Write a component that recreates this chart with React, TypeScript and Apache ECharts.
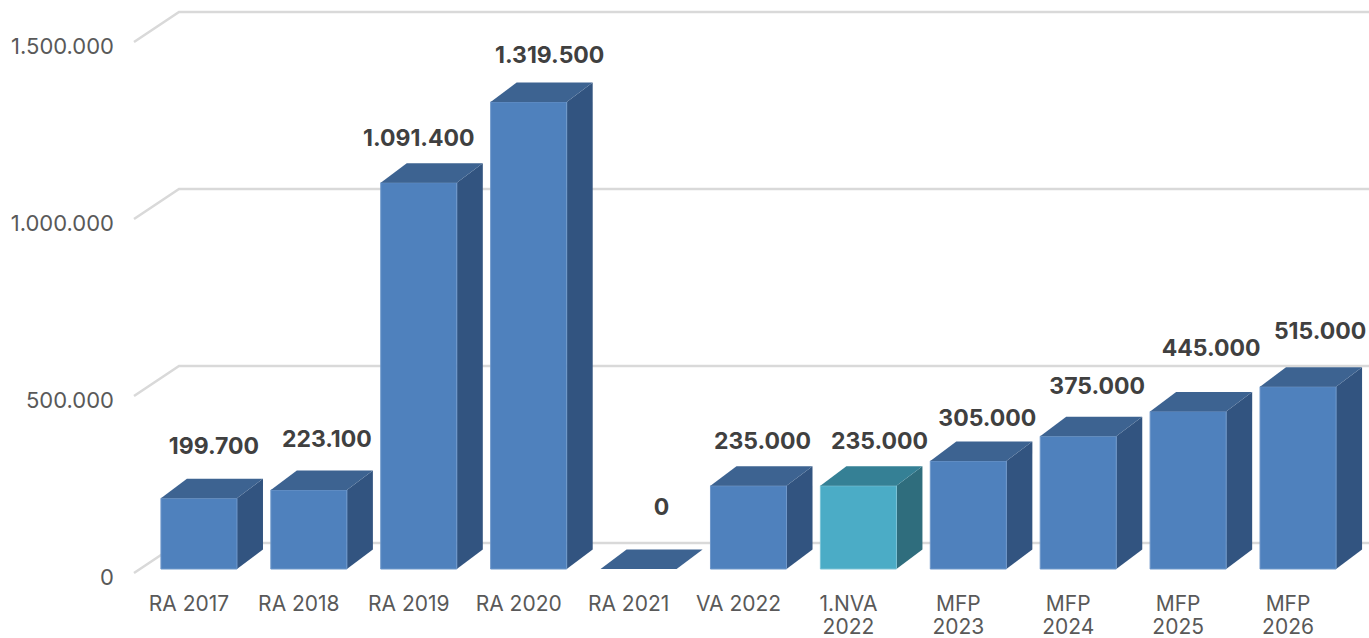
import React, { useEffect, useRef } from "react";
import * as echarts from "echarts";

const categories = ["RA 2017", "RA 2018", "RA 2019", "RA 2020", "RA 2021", "VA 2022", "1.NVA\n2022", "MFP\n2023", "MFP\n2024", "MFP\n2025", "MFP\n2026"];
const values = [199700, 223100, 1091400, 1319500, 0, 235000, 235000, 305000, 375000, 445000, 515000];
const valueTicks = [0, 500000, 1000000, 1500000];
const highlighted = "1.NVA\n2022";

const labelShiftX = [15, 18, 0, 21, 23, 14, 21, 19, 19, 23, 22];
const labelShiftY = [-52, -51, -45, -47, -62, -45, -45, -43, -50, -63, -56];

const FONT = "Inter";
const DEPTH_X = 26;
const DEPTH_Y = -19.5;
const BLUE = { front: "#4f81bd", top: "#3d6391", side: "#325480", edge: "#6f98ca" };
const TEAL = { front: "#4bacc6", top: "#358095", side: "#2f6d7d", edge: "#7cc3d6" };

const fmt = (v: number) => String(v).replace(/\B(?=(\d{3})+$)/g, ".");

function renderBar(params: any, api: any) {
  const i = api.value(0);
  const v = api.value(1);
  const [cx, yTop] = api.coord([i, v]);
  const [, yBase] = api.coord([i, 0]);
  const half = (api.size([1, 0])[0] * 0.692) / 2;
  const l = cx - half;
  const r = cx + half;
  const c = categories[i] === highlighted ? TEAL : BLUE;
  const children: any[] = [];
  if (v > 0) {
    children.push({
      type: "polygon",
      shape: { points: [[r, yTop], [r + DEPTH_X, yTop + DEPTH_Y], [r + DEPTH_X, yBase + DEPTH_Y], [r, yBase]] },
      style: { fill: c.side },
    });
    children.push({
      type: "rect",
      shape: { x: l, y: yTop, width: r - l, height: yBase - yTop },
      style: { fill: c.front, stroke: c.edge, lineWidth: 1 },
    });
  }
  children.push({
    type: "polygon",
    shape: { points: [[l, yTop], [r, yTop], [r + DEPTH_X, yTop + DEPTH_Y], [l + DEPTH_X, yTop + DEPTH_Y]] },
    style: { fill: c.top },
  });
  children.push({
    type: "text",
    x: cx + labelShiftX[i],
    y: yTop + labelShiftY[i],
    style: {
      text: fmt(v),
      fill: "#404040",
      font: `700 23px ${FONT}`,
      align: "center",
      verticalAlign: "middle",
    },
  });
  return { type: "group", children };
}

function renderGrid(params: any, api: any) {
  const v = api.value(0);
  const y = api.coord([0, v])[1];
  const x0 = params.coordSys.x;
  return {
    type: "polyline",
    shape: { points: [[x0 - 10, y + 4], [x0 + 35, y - 26], [1369, y - 26]] },
    style: { fill: "none", stroke: "#d9d9d9", lineWidth: 2.5 },
  };
}

export default function App() {
  const ref = useRef<HTMLDivElement>(null);
  useEffect(() => {
    const chart = echarts.init(ref.current!, undefined, { renderer: "svg" });
    chart.setOption({
      animation: false,
      backgroundColor: "#ffffff",
      grid: { left: 144, right: 16, top: 38, bottom: 69, containLabel: false, outerBoundsMode: "none" },
      xAxis: {
        type: "category",
        data: categories,
        axisLine: { show: false },
        axisTick: { show: false },
        axisLabel: {
          interval: 0,
          margin: 23,
          color: "#595959",
          fontFamily: FONT,
          fontSize: 21,
          lineHeight: 23,
          padding: [0, 20, 0, 0],
        },
      },
      yAxis: {
        type: "value",
        min: 0,
        max: 1500000,
        interval: 500000,
        axisLine: { show: false },
        axisTick: { show: false },
        splitLine: { show: false },
        axisLabel: {
          margin: 30,
          color: "#595959",
          fontFamily: FONT,
          fontSize: 22,
          verticalAlign: "top",
          lineHeight: 15,
          formatter: (v: number) => fmt(v),
        },
      },
      series: [
        {
          type: "custom",
          z: 1,
          silent: true,
          clip: false,
          coordinateSystem: "cartesian2d",
          data: valueTicks.map((v) => [v]),
          encode: { y: 0 },
          renderItem: renderGrid,
        },
        {
          type: "custom",
          z: 2,
          silent: true,
          clip: false,
          coordinateSystem: "cartesian2d",
          data: values.map((v, i) => [i, v]),
          encode: { x: 0, y: 1 },
          renderItem: renderBar,
        },
      ],
    });
    return () => chart.dispose();
  }, []);
  return <div ref={ref} style={{ position: "fixed", left: 0, top: 0, width: 1369, height: 638 }} />;
}
